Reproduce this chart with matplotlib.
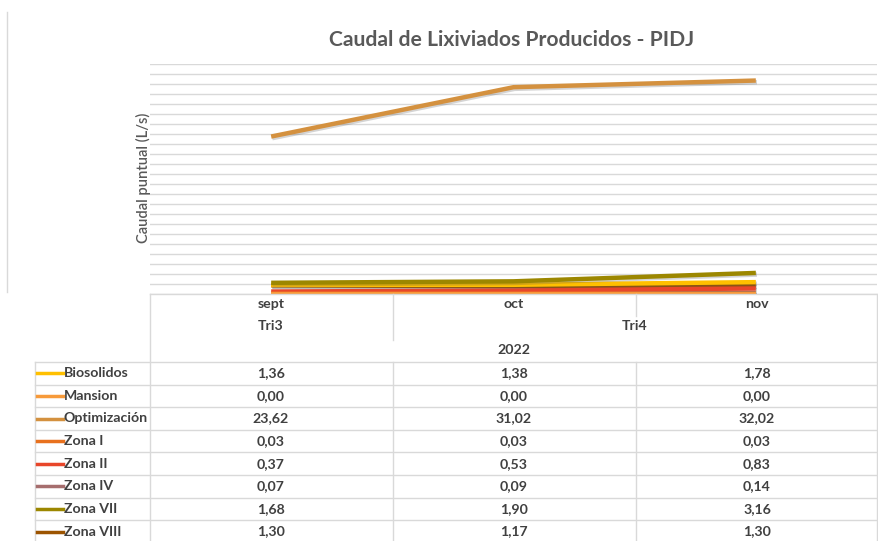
import matplotlib
matplotlib.use("Agg")
import matplotlib.pyplot as plt
import matplotlib.patheffects as pe
from matplotlib.lines import Line2D

W, H = 879, 541

months = ["sept", "oct", "nov"]
series_names = ["Biosolidos", "Mansion", "Optimización", "Zona I", "Zona II",
                "Zona IV", "Zona VII", "Zona VIII"]
biosolidos = [1.36, 1.38, 1.78]
mansion = [0.00, 0.00, 0.00]
optimizacion = [23.62, 31.02, 32.02]
zona_i = [0.03, 0.03, 0.03]
zona_ii = [0.37, 0.53, 0.83]
zona_iv = [0.07, 0.09, 0.14]
zona_vii = [1.68, 1.90, 3.16]
zona_viii = [1.30, 1.17, 1.30]
series_values = [biosolidos, mansion, optimizacion, zona_i, zona_ii,
                 zona_iv, zona_vii, zona_viii]
colors = ["#FFC000", "#F79A3A", "#D4913F", "#E8711E", "#E8462A",
          "#A66E6E", "#9C8700", "#9C5400"]

GRID = "#D9D9D9"
TXT = "#404040"
FS = 10.2


def fx(x):
    return x / W


def fy(y):
    return 1 - y / H


plt.rcParams["font.family"] = ["Lato", "DejaVu Sans"]

fig = plt.figure(figsize=(W / 100, H / 100), dpi=100)
ax = fig.add_axes([fx(150), fy(294), fx(877) - fx(150), fy(64) - fy(294)])

x = range(len(months))
# small series first, the big one on top
order = [5, 7, 4, 3, 1, 0, 6, 2]
for i in order:
    ax.plot(x, series_values[i], color=colors[i], lw=3.2, solid_capstyle="butt",
            path_effects=[pe.SimpleLineShadow(offset=(0.8, -1.2), alpha=0.25, shadow_color="#555555"),
                          pe.Normal()], zorder=3)

ax.set_xlim(-0.5, 2.5)
ax.set_ylim(0, 34.5)
ax.set_yticks([i * 1.5 for i in range(24)])
ax.yaxis.grid(True, color=GRID, lw=1)
ax.set_axisbelow(True)
ax.tick_params(length=0, labelleft=False, labelbottom=False)
for s in ax.spines.values():
    s.set_visible(False)

fig.text(fx(512), fy(40), "Caudal de Lixiviados Producidos - PIDJ", ha="center", va="center",
         fontsize=15.2, fontweight="bold", color="#595959")
fig.text(fx(143), fy(178), "Caudal puntual (L/s)", rotation=90, ha="center", va="center",
         fontsize=10.6, color="#595959", fontweight="semibold")


def hline(y, x0, x1):
    fig.add_artist(Line2D([fx(x0), fx(x1)], [fy(y), fy(y)], color=GRID, lw=1))


def vline(x0, y0, y1):
    fig.add_artist(Line2D([fx(x0), fx(x0)], [fy(y0), fy(y1)], color=GRID, lw=1))


# left chart border
vline(7, 12, 292)

# header box
hline(294, 150, 877)
vline(150, 294, 541)
vline(877, 294, 541)
vline(393, 294, 340)
vline(636, 294, 316)

col_x = [271, 514, 757]
for cx, m in zip(col_x, months):
    fig.text(fx(cx), fy(304), m, ha="center", va="center", fontsize=FS, color=TXT, fontweight="bold")
fig.text(fx(271), fy(326), "Tri3", ha="center", va="center", fontsize=FS, color=TXT, fontweight="bold")
fig.text(fx(635), fy(326), "Tri4", ha="center", va="center", fontsize=FS, color=TXT, fontweight="bold")
fig.text(fx(514), fy(350), "2022", ha="center", va="center", fontsize=FS, color=TXT, fontweight="bold")

row_h = 22.6
top = 362
for r in range(len(series_names) + 1):
    hline(top + r * row_h, 35, 877)
vline(35, top, 541)
vline(393, top, 541)
vline(636, top, 541)

for r, (name, vals, c) in enumerate(zip(series_names, series_values, colors)):
    cy = top + (r + 0.5) * row_h
    fig.add_artist(Line2D([fx(37), fx(63)], [fy(cy), fy(cy)], color=c, lw=2.5))
    fig.text(fx(64), fy(cy), name, ha="left", va="center", fontsize=FS, color=TXT, fontweight="bold")
    for cx, v in zip(col_x, vals):
        fig.text(fx(cx), fy(cy), f"{v:.2f}".replace(".", ","), ha="center", va="center",
                 fontsize=FS, color=TXT, fontweight="bold")

fig.savefig("out.png", dpi=100)
